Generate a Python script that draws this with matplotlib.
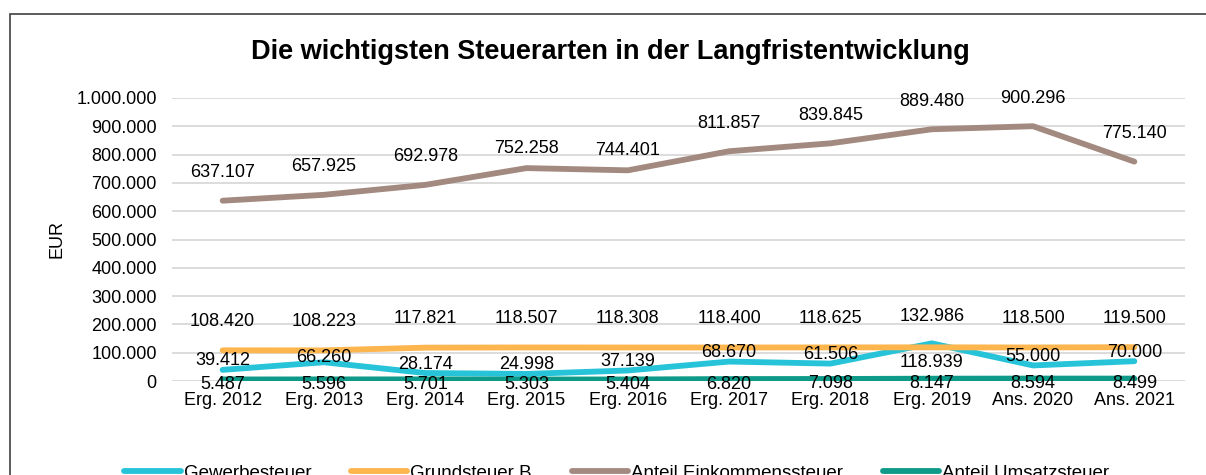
import matplotlib.pyplot as plt
import numpy as np
from matplotlib.patches import Rectangle

plt.rcParams['font.family'] = ['Liberation Sans', 'DejaVu Sans']

# Daten
kategorien = ['Erg. 2012', 'Erg. 2013', 'Erg. 2014', 'Erg. 2015', 'Erg. 2016',
              'Erg. 2017', 'Erg. 2018', 'Erg. 2019', 'Ans. 2020', 'Ans. 2021']
gewerbesteuer = [39412, 66260, 28174, 24998, 37139, 68670, 61506, 132986, 55000, 70000]
grundsteuer_b = [108420, 108223, 117821, 118507, 118308, 118400, 118625, 118939, 118500, 119500]
einkommensteuer = [637107, 657925, 692978, 752258, 744401, 811857, 839845, 889480, 900296, 775140]
umsatzsteuer = [5487, 5596, 5701, 5303, 5404, 6820, 7098, 8147, 8594, 8499]

namen = ['Gewerbesteuer', 'Grundsteuer B', 'Anteil Einkommenssteuer', 'Anteil Umsatzsteuer']
farben = ['#27C4D9', '#FDB54E', '#A38A80', '#0E9A88']


def fmt(v):
    return f'{v:,.0f}'.replace(',', '.')


fig = plt.figure(figsize=(12.06, 4.75), dpi=100)
ax = fig.add_axes([172 / 1206, 1 - 381 / 475, 1013 / 1206, 283 / 475])

x = np.arange(len(kategorien))
serien = [gewerbesteuer, grundsteuer_b, einkommensteuer, umsatzsteuer]
for werte, name, farbe in zip(serien, namen, farben):
    ax.plot(x, werte, color=farbe, lw=4.2, label=name, solid_capstyle='round',
            solid_joinstyle='round', zorder=3)

# Beschriftungen (Abstand in Pixel, positiv = oberhalb)
abstand = {0: [9] * 10, 1: [29] * 10, 2: [28] * 10, 3: [-5] * 10}
abstand[0][7] = 27
abstand[1][7] = -15
abstand[0][1] = 5
abstand[2][3] = 20
abstand[2][4] = 20
for i, werte in enumerate(serien):
    for j, v in enumerate(werte):
        ax.annotate(fmt(v), (j, v), xytext=(0, abstand[i][j] * 0.72),
                    textcoords='offset points', ha='center', va='center',
                    fontsize=13, color='#000000', zorder=5)

ax.set_xlim(-0.5, 9.5)
ax.set_ylim(0, 1000000)
ax.set_yticks(np.arange(0, 1000001, 100000))
ax.set_yticklabels([fmt(v) for v in np.arange(0, 1000001, 100000)])
ax.set_xticks(x)
ax.set_xticklabels(kategorien)
ax.tick_params(axis='both', length=0, labelsize=13)
ax.tick_params(axis='y', pad=11)
ax.tick_params(axis='x', pad=8)
ax.grid(axis='y', color='#D9D9D9', lw=1.3)
ax.set_axisbelow(True)
for s in ax.spines.values():
    s.set_visible(False)
ax.set_ylabel('EUR', fontsize=13, labelpad=7.5)

fig.text(610 / 1206, 1 - 52 / 475, 'Die wichtigsten Steuerarten in der Langfristentwicklung',
         ha='center', va='center', fontsize=19.5, fontweight='bold')

# Rahmen
fig.patches.append(Rectangle((10 / 1206, -0.2), 1.2, 1.2 - 14 / 475, transform=fig.transFigure,
                             fill=False, edgecolor='#404040', lw=1.2))

fig.legend(loc='center', bbox_to_anchor=(617 / 1206, 1 - 473 / 475), ncol=4, frameon=False,
           fontsize=13.5, handlelength=3.0, handletextpad=0.16, columnspacing=2.13)

plt.savefig('out.png', dpi=100)
